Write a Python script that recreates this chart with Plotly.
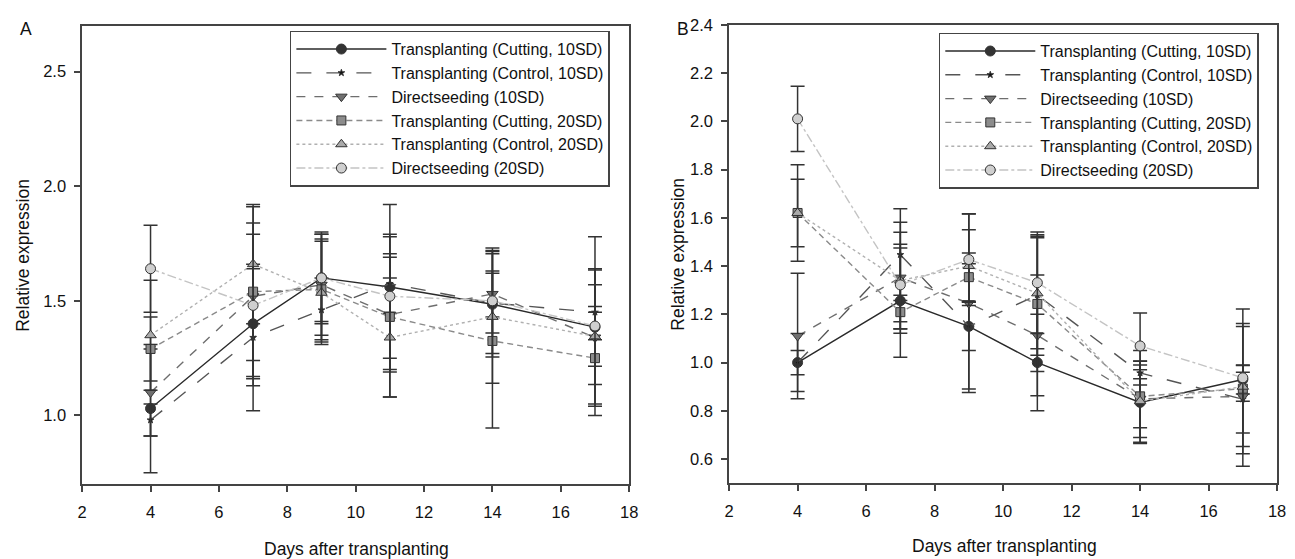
import plotly.graph_objects as go

days = [4, 7, 9, 11, 14, 17]
names = ["Transplanting (Cutting, 10SD)", "Transplanting (Control, 10SD)", "Directseeding (10SD)",
         "Transplanting (Cutting, 20SD)", "Transplanting (Control, 20SD)", "Directseeding (20SD)"]

# Panel A values and error bars
a_cut10 = [1.03, 1.40, 1.60, 1.56, 1.485, 1.385]
a_cut10_err = [0.28, 0.24, 0.19, 0.36, 0.23, 0.25]
a_con10 = [0.98, 1.34, 1.46, 1.575, 1.49, 1.45]
a_con10_err = [0.07, 0.32, 0.14, 0.13, 0.13, 0.12]
a_ds10 = [1.10, 1.52, 1.57, 1.44, 1.53, 1.34]
a_ds10_err = [0.19, 0.39, 0.22, 0.25, 0.10, 0.30]
a_cut20 = [1.29, 1.54, 1.55, 1.43, 1.325, 1.25]
a_cut20_err = [0.14, 0.30, 0.22, 0.35, 0.38, 0.20]
a_con20 = [1.35, 1.66, 1.535, 1.34, 1.43, 1.345]
a_con20_err = [0.24, 0.26, 0.225, 0.26, 0.29, 0.13]
a_ds20 = [1.64, 1.48, 1.60, 1.52, 1.50, 1.39]
a_ds20_err = [0.19, 0.31, 0.20, 0.27, 0.23, 0.39]

# Panel B values and error bars
b_cut10 = [1.00, 1.256, 1.15, 1.00, 0.835, 0.93]
b_cut10_err = [0.12, 0.234, 0.26, 0.20, 0.17, 0.06]
b_con10 = [1.00, 1.447, 1.15, 1.28, 0.957, 0.848]
b_con10_err = [0.05, 0.19, 0.10, 0.25, 0.05, 0.14]
b_ds10 = [1.11, 1.352, 1.246, 1.113, 0.85, 0.86]
b_ds10_err = [0.26, 0.23, 0.37, 0.25, 0.12, 0.29]
b_cut20 = [1.62, 1.209, 1.354, 1.243, 0.86, 0.892]
b_cut20_err = [0.20, 0.07, 0.10, 0.28, 0.19, 0.27]
b_con20 = [1.62, 1.34, 1.40, 1.287, 0.84, 0.90]
b_con20_err = [0.14, 0.20, 0.15, 0.23, 0.15, 0.06]
b_ds20 = [2.01, 1.322, 1.427, 1.331, 1.069, 0.937]
b_ds20_err = [0.135, 0.153, 0.19, 0.21, 0.136, 0.285]

line_colors = ["#2a2a2a", "#555555", "#6e6e6e", "#8a8a8a", "#b0b0b0", "#c4c4c4"]
dashes = ["solid", "longdash", "dash", "6px,4px", "dot", "dashdot"]
symbols = ["circle", "star", "triangle-down", "square", "triangle-up", "circle"]
fills = ["#333333", "#111111", "#707070", "#8c8c8c", "#aaaaaa", "#cfcfcf"]
sizes = [10, 5, 10, 9, 10, 10]

panel_a = [(a_cut10, a_cut10_err), (a_con10, a_con10_err), (a_ds10, a_ds10_err),
           (a_cut20, a_cut20_err), (a_con20, a_con20_err), (a_ds20, a_ds20_err)]
panel_b = [(b_cut10, b_cut10_err), (b_con10, b_con10_err), (b_ds10, b_ds10_err),
           (b_cut20, b_cut20_err), (b_con20, b_con20_err), (b_ds20, b_ds20_err)]

FONT = "Liberation Sans, Arial, sans-serif"

fig = go.Figure()
for panel, xa, ya, leg in [(panel_a, "x", "y", "legend"), (panel_b, "x2", "y2", "legend2")]:
    for i, (vals, errs) in enumerate(panel):
        fig.add_trace(go.Scatter(
            x=days, y=vals, name=names[i], mode="lines+markers",
            xaxis=xa, yaxis=ya, legend=leg,
            line=dict(color=line_colors[i], width=1.4, dash=dashes[i]),
            marker=dict(symbol=symbols[i], size=sizes[i], color=fills[i],
                        line=dict(color="#333333", width=1)),
            error_y=dict(type="data", array=errs, visible=True, color="#333333",
                         thickness=1.5, width=7),
        ))

W, H = 1295, 559
def px_x(a, b):
    return [a / W, b / W]
def px_y(top, bottom):
    return [1 - bottom / H, 1 - top / H]

axis_common = dict(showline=True, linecolor="#444444", linewidth=1.5, mirror=True,
                   ticks="outside", ticklen=6, tickwidth=1.5, tickcolor="#444444",
                   showgrid=False, zeroline=False,
                   tickfont=dict(family=FONT, size=16.5, color="#111111"))

legend_common = dict(xanchor="left", yanchor="top", bordercolor="#444444", borderwidth=1.5,
                     bgcolor="white", font=dict(family=FONT, size=16, color="#111111"),
                     itemwidth=90)

def ann(text, x, y, size=17.5, angle=0):
    return dict(text=text, x=x / W, y=1 - y / H, xref="paper", yref="paper",
                xanchor="center", yanchor="middle", showarrow=False, textangle=angle,
                font=dict(family=FONT, size=size, color="#111111"))

fig.update_layout(
    width=W, height=H, margin=dict(l=0, r=0, t=0, b=0),
    plot_bgcolor="white", paper_bgcolor="white", showlegend=True,
    xaxis=dict(domain=px_x(78, 631), range=[2, 18], tickvals=list(range(2, 19, 2)),
               anchor="y", ticklabelstandoff=6, **axis_common),
    yaxis=dict(domain=px_y(17, 483), range=[0.7, 2.7], tickvals=[1.0, 1.5, 2.0, 2.5],
               ticktext=["1.0", "1.5", "2.0", "2.5"], anchor="x", ticklabelstandoff=5, **axis_common),
    xaxis2=dict(domain=px_x(732, 1286), range=[2, 18], tickvals=list(range(2, 19, 2)),
                anchor="y2", ticklabelstandoff=6, **axis_common),
    yaxis2=dict(domain=px_y(16, 482), range=[0.5, 2.4],
                tickvals=[0.6, 0.8, 1.0, 1.2, 1.4, 1.6, 1.8, 2.0, 2.2, 2.4],
                ticktext=["0.6", "0.8", "1.0", "1.2", "1.4", "1.6", "1.8", "2.0", "2.2", "2.4"],
                anchor="x2", ticklabelstandoff=5, **axis_common),
    legend=dict(x=288 / W, y=1 - 22 / H, **legend_common),
    legend2=dict(x=944 / W, y=1 - 24 / H, **legend_common),
    annotations=[
        ann("A", 21, 20),
        ann("B", 685, 20),
        ann("Relative expression", 18, 250, angle=-90),
        ann("Relative expression", 680, 249, angle=-90),
        ann("Days after transplanting", 355, 549),
        ann("Days after transplanting", 1010, 546),
    ],
)

fig.write_html("out.html")
